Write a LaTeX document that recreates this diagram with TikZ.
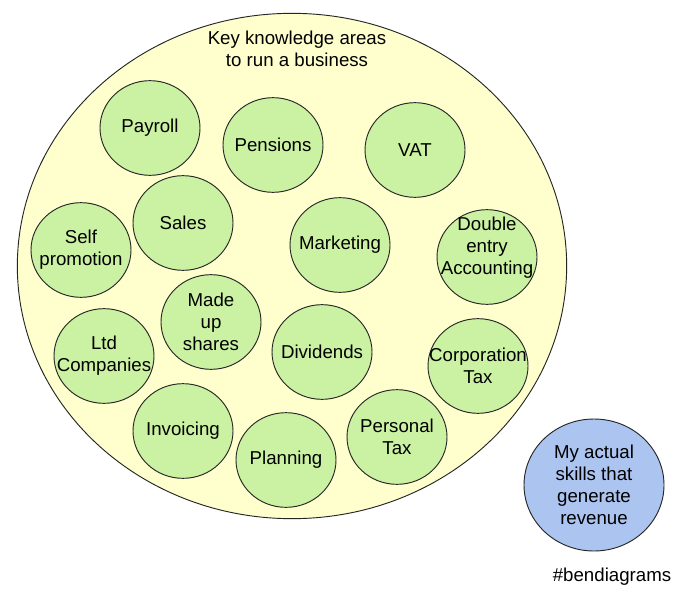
\documentclass[tikz,border=0pt]{standalone}
\usepackage{fontspec}
\setmainfont{Liberation Sans}
\usetikzlibrary{shapes.geometric}
\definecolor{bigfill}{RGB}{255,255,206}
\definecolor{greenfill}{RGB}{202,242,162}
\definecolor{bluefill}{RGB}{172,196,240}
\begin{document}
\begin{tikzpicture}[x=0.75pt,y=-0.75pt,
  txt/.style={align=center,font=\fontsize{14}{16.5}\selectfont,inner sep=0pt},
  disc/.style={ellipse,draw=black!85,line width=0.7pt,fill=greenfill,
    minimum width=75pt,minimum height=71pt,inner sep=0pt},
  area/.style={disc,label={[txt]center:#1}}]
\useasboundingbox (0,0) rectangle (680,598);
\fill[white] (0,0) rectangle (680,598);
\node[ellipse,draw=black!85,line width=0.7pt,fill=bigfill,minimum width=412pt,minimum height=379pt,inner sep=0pt] (big) at (292,266) {};
\node[txt] (title) at (297,49) {Key knowledge areas\\to run a business};
\node[area={Payroll}] (payroll) at (150,128) {};
\node[area={Pensions}] (pensions) at (273,145) {};
\node[area={VAT}] (vat) at (415,150) {};
\node[area={Sales}] (sales) at (183,223) {};
\node[area={Self\\promotion}] (self) at (81,250) {};
\node[area={Marketing}] (marketing) at (340,245) {};
\node[disc,label={[txt,yshift=7pt]center:Double\\entry\\Accounting}] (double) at (487,257) {};
\node[area={Made\\up\\shares}] (made) at (211,322) {};
\node[area={Ltd\\Companies}] (ltd) at (104,356) {};
\node[area={Dividends}] (dividends) at (322,352) {};
\node[area={Corporation\\Tax}] (corp) at (478,366) {};
\node[area={Invoicing}] (invoicing) at (183,431) {};
\node[area={Planning}] (planning) at (286,460) {};
\node[area={Personal\\Tax}] (personal) at (397,437) {};
\node[ellipse,draw=black!85,line width=0.7pt,fill=bluefill,minimum width=105pt,minimum height=99pt,inner sep=0pt,
  label={[txt]center:My actual\\skills that\\generate\\revenue}] (skills) at (594,485) {};
\node[txt] (tag) at (612,577) {\#bendiagrams};
\end{tikzpicture}
\end{document}
